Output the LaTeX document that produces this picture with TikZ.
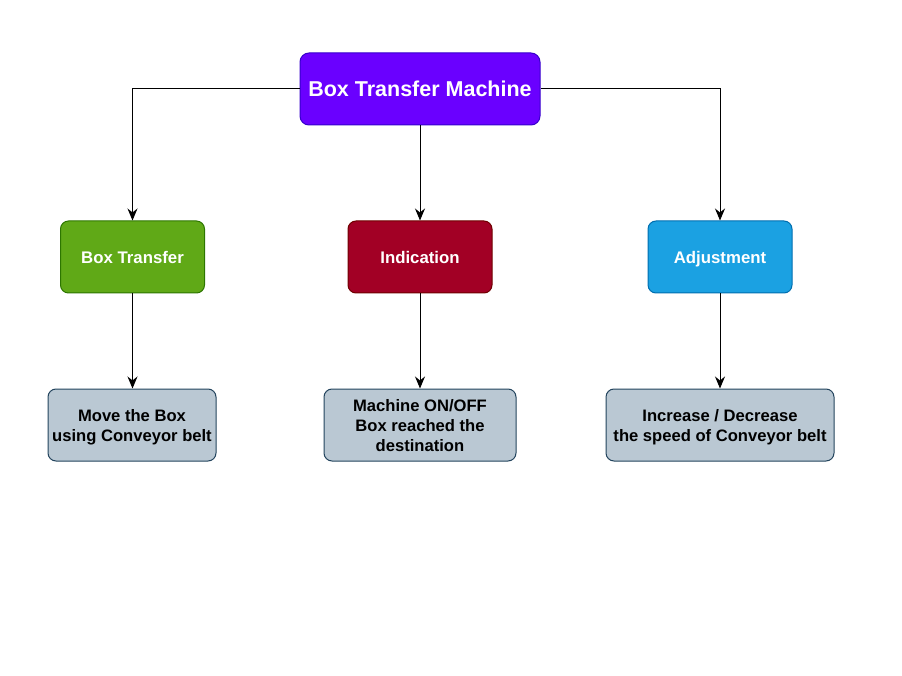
\documentclass[tikz,border=0pt]{standalone}
\usepackage{fontspec}
\setmainfont{Liberation Sans}
\usetikzlibrary{arrows.meta}

\definecolor{machinefill}{HTML}{6A00FF}
\definecolor{machineline}{HTML}{3700CC}
\definecolor{transferfill}{HTML}{60A917}
\definecolor{transferline}{HTML}{2D7600}
\definecolor{indicfill}{HTML}{A20025}
\definecolor{indicline}{HTML}{6F0000}
\definecolor{adjustfill}{HTML}{1BA1E2}
\definecolor{adjustline}{HTML}{006EAF}
\definecolor{taskfill}{HTML}{BAC8D3}
\definecolor{taskline}{HTML}{23445D}

\tikzset{
  mainbox/.style={draw, line width=1pt, rounded corners=9pt, minimum width=240pt, minimum height=72pt, inner sep=0pt,
    text depth=0pt, text=white, font=\fontsize{21.5}{25}\selectfont\bfseries},
  groupbox/.style={draw, line width=1pt, rounded corners=8pt, minimum width=144pt, minimum height=72pt, inner sep=0pt,
    text depth=0pt, text=white, font=\fontsize{16.8}{20}\selectfont\bfseries},
  taskbox/.style={draw=taskline, fill=taskfill, line width=1pt, rounded corners=8pt, minimum height=72pt, inner sep=0pt,
    text depth=0pt, align=center, font=\fontsize{16.6}{20}\selectfont\bfseries},
  link/.style={-{Stealth[length=12pt,width=10pt,inset=4pt]}, line width=1pt}
}

\begin{document}
\begin{tikzpicture}[x=1pt, y=-1pt]

\useasboundingbox (0,0) rectangle (902,676);

% Machine (top)
\node[mainbox, draw=machineline, fill=machinefill] (machine) at (420,89) {Box Transfer Machine};

% Function groups
\node[groupbox, draw=transferline, fill=transferfill] (transfer) at (132.5,257) {Box Transfer};
\node[groupbox, draw=indicline, fill=indicfill] (indic) at (420,257) {Indication};
\node[groupbox, draw=adjustline, fill=adjustfill] (adjust) at (720,257) {Adjustment};

% Tasks
\node[taskbox, minimum width=168pt] (move) at (132,425) {Move the Box\\using Conveyor belt};
\node[taskbox, minimum width=192pt] (status) at (420,425) {Machine ON/OFF\\Box reached the\\destination};
\node[taskbox, minimum width=228pt] (speed) at (720,425) {Increase / Decrease\\the speed of Conveyor belt};

% Links from the machine
\draw[link] (machine.west) -| (transfer.north);
\draw[link] (machine.south) -- (indic.north);
\draw[link] (machine.east) -| (adjust.north);

% Links to the tasks
\draw[link] (transfer.south) -- (transfer.south |- move.north);
\draw[link] (indic.south) -- (status.north);
\draw[link] (adjust.south) -- (speed.north);

\end{tikzpicture}
\end{document}
